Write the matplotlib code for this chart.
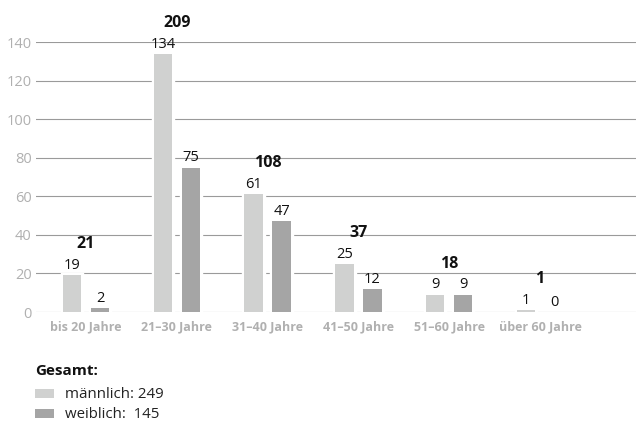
import matplotlib
matplotlib.use("Agg")
import matplotlib.pyplot as plt
import numpy as np

categories = ["bis 20 Jahre", "21–30 Jahre", "31–40 Jahre", "41–50 Jahre", "51–60 Jahre", "über 60 Jahre"]
maennlich = [19, 134, 61, 25, 9, 1]
weiblich = [2, 75, 47, 12, 9, 0]
yticks = [0, 20, 40, 60, 80, 100, 120, 140]

c_m = "#d0d1d0"
c_w = "#a5a5a5"
c_grid = "#9a9a9a"
c_tick = "#b0b0b0"

plt.rcParams['font.family'] = ['Open Sans', 'DejaVu Sans']

fig = plt.figure(figsize=(6.36, 4.24), dpi=100)
ax = fig.add_axes([36/636, 1-312/424, 1-36/636, (312-42.3)/424])

x = np.arange(len(categories))
off = 14/90.8
w = 18.5/90.8
lw_m = [3.9 if v > 0 else 0 for v in maennlich]
lw_w = [3.9 if v > 0 else 0 for v in weiblich]
# white halo behind bars
ax.bar(x - off, maennlich, width=w, color="white", edgecolor="white", linewidth=lw_m, zorder=2)
ax.bar(x + off, weiblich, width=w, color="white", edgecolor="white", linewidth=lw_w, zorder=2)
ax.bar(x - off, maennlich, width=w, color=c_m, linewidth=0, zorder=3)
ax.bar(x + off, weiblich, width=w, color=c_w, linewidth=0, zorder=3)

for t in yticks:
    ax.axhline(t, color=c_grid, lw=0.8, zorder=1)

for i in range(len(categories)):
    ax.annotate(str(maennlich[i]), (x[i] - off, maennlich[i]), xytext=(0, 4.5), textcoords="offset points",
                ha="center", va="baseline", fontsize=10.5, color="#111111", zorder=5)
    ax.annotate(str(weiblich[i]), (x[i] + off, weiblich[i]), xytext=(0, 4.5), textcoords="offset points",
                ha="center", va="baseline", fontsize=10.5, color="#111111", zorder=5)
    tot = maennlich[i] + weiblich[i]
    top = max(maennlich[i], weiblich[i])
    ax.annotate(str(tot), (x[i], top), xytext=(0, 19.5), textcoords="offset points",
                ha="center", va="baseline", fontsize=11.5, fontweight="bold", color="#111111",
                annotation_clip=False, zorder=5)

ax.set_xlim((36-86)/90.8, (636-86)/90.8)
ax.set_ylim(0, 140)
ax.set_yticks(yticks)
ax.set_xticks(x)
ax.set_xticklabels(categories, fontsize=9, fontweight="bold", color=c_tick)
ax.tick_params(axis="y", length=0, pad=3, labelsize=10.5, labelcolor=c_tick)
ax.tick_params(axis="x", length=0, pad=6)
for s in ax.spines.values():
    s.set_visible(False)

# legend
fig.text(35/636, 1-375/424, "Gesamt:", fontsize=11, fontweight="bold", color="#111111", va="baseline")
fig.patches.append(plt.Rectangle((35/636, 1-398/424), 19/636, 9/424, transform=fig.transFigure,
                                 facecolor=c_m, edgecolor="none"))
fig.patches.append(plt.Rectangle((35/636, 1-418/424), 19/636, 9/424, transform=fig.transFigure,
                                 facecolor=c_w, edgecolor="none"))
fig.text(65/636, 1-398/424, "männlich: %d" % sum(maennlich), fontsize=10.8, color="#222222", va="baseline")
fig.text(65/636, 1-418/424, "weiblich:  %d" % sum(weiblich), fontsize=10.8, color="#222222", va="baseline")

fig.savefig("out.png", dpi=100)
